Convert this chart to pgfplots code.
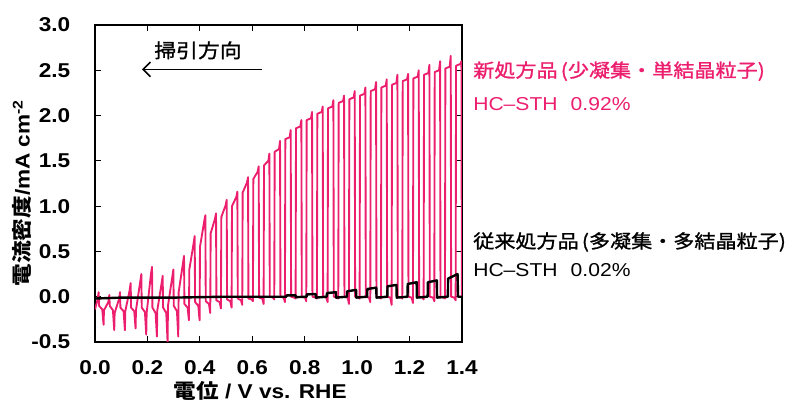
\documentclass[border=0pt]{standalone}
\usepackage{fontspec}
\setmainfont{Liberation Sans}[FakeStretch=1.13]
\newfontfamily\jp{Noto Sans CJK JP}[FakeStretch=1.13]
\newfontfamily\jpm{Noto Sans CJK JP}[FakeStretch=1.13, FakeBold=1.2]
\usepackage{pgfplots}
\pgfplotsset{compat=1.18}
\usetikzlibrary{arrows.meta}
\definecolor{chopink}{RGB}{236,30,110}

% chopped-light LSV, new photocatalyst (pink)
\pgfplotstableread{
x y
0.0000 -0.14
0.0100 -0.03
0.0140 0.05
0.0155 -0.10
0.0277 -0.14
0.0327 -0.31
0.0342 -0.15
0.0507 -0.06
0.0547 0.02
0.0562 -0.10
0.0684 -0.15
0.0734 -0.37
0.0749 -0.18
0.0914 -0.03
0.0954 0.05
0.0969 -0.12
0.1091 -0.16
0.1141 -0.37
0.1156 -0.16
0.1321 0.07
0.1361 0.15
0.1376 -0.12
0.1498 -0.16
0.1548 -0.35
0.1563 -0.15
0.1728 0.17
0.1768 0.25
0.1783 -0.12
0.1905 -0.17
0.1955 -0.42
0.1970 -0.18
0.2135 0.25
0.2175 0.33
0.2190 -0.12
0.2312 -0.18
0.2362 -0.44
0.2377 -0.15
0.2542 0.15
0.2582 0.23
0.2597 -0.12
0.2719 -0.18
0.2769 -0.50
0.2784 -0.10
0.2949 0.22
0.2989 0.30
0.3004 -0.10
0.3126 -0.16
0.3176 -0.44
0.3191 0.05
0.3356 0.37
0.3396 0.45
0.3411 -0.08
0.3533 -0.12
0.3583 -0.26
0.3598 0.30
0.3763 0.59
0.3803 0.67
0.3818 -0.06
0.3940 -0.10
0.3990 -0.26
0.4005 0.55
0.4170 0.84
0.4210 0.90
0.4225 -0.05
0.4347 -0.08
0.4397 -0.18
0.4412 0.70
0.4577 0.86
0.4617 0.92
0.4632 -0.04
0.4754 -0.06
0.4804 -0.13
0.4819 0.88
0.4984 1.01
0.5024 1.07
0.5039 -0.03
0.5161 -0.05
0.5211 -0.12
0.5226 1.00
0.5391 1.10
0.5431 1.16
0.5446 -0.02
0.5568 -0.04
0.5618 -0.09
0.5633 1.15
0.5798 1.26
0.5838 1.32
0.5853 -0.02
0.5975 -0.03
0.6025 -0.05
0.6040 1.30
0.6205 1.38
0.6245 1.44
0.6260 -0.01
0.6382 -0.02
0.6432 -0.08
0.6447 1.45
0.6612 1.50
0.6652 1.58
0.6667 0.00
0.6789 -0.01
0.6839 -0.03
0.6854 1.60
0.7019 1.63
0.7059 1.72
0.7074 0.00
0.7196 -0.01
0.7246 -0.06
0.7261 1.74
0.7426 1.76
0.7466 1.84
0.7481 0.00
0.7603 -0.01
0.7653 -0.02
0.7668 1.86
0.7833 1.88
0.7873 1.95
0.7888 0.00
0.8010 -0.01
0.8060 -0.05
0.8075 1.95
0.8240 1.97
0.8280 2.04
0.8295 0.00
0.8417 -0.01
0.8467 -0.02
0.8482 2.02
0.8647 2.04
0.8687 2.10
0.8702 0.00
0.8824 -0.01
0.8874 -0.06
0.8889 2.08
0.9054 2.10
0.9094 2.17
0.9109 0.00
0.9231 -0.01
0.9281 -0.02
0.9296 2.14
0.9461 2.16
0.9501 2.22
0.9516 0.00
0.9638 -0.01
0.9688 -0.08
0.9703 2.18
0.9868 2.20
0.9908 2.27
0.9923 0.00
1.0045 -0.01
1.0095 -0.02
1.0110 2.22
1.0275 2.24
1.0315 2.31
1.0330 0.00
1.0452 -0.01
1.0502 -0.06
1.0517 2.27
1.0682 2.29
1.0722 2.37
1.0737 0.00
1.0859 -0.01
1.0909 -0.02
1.0924 2.31
1.1089 2.33
1.1129 2.40
1.1144 0.00
1.1266 -0.01
1.1316 -0.09
1.1331 2.34
1.1496 2.36
1.1536 2.45
1.1551 0.00
1.1673 -0.01
1.1723 -0.02
1.1738 2.38
1.1903 2.40
1.1943 2.46
1.1958 0.00
1.2080 -0.01
1.2130 -0.07
1.2145 2.41
1.2310 2.43
1.2350 2.50
1.2365 0.00
1.2487 -0.01
1.2537 -0.03
1.2552 2.45
1.2717 2.47
1.2757 2.56
1.2772 0.00
1.2894 -0.01
1.2944 -0.05
1.2959 2.48
1.3124 2.50
1.3164 2.60
1.3179 0.00
1.3301 -0.01
1.3351 -0.02
1.3366 2.52
1.3531 2.54
1.3571 2.66
1.3586 0.00
1.3708 -0.01
1.3758 -0.04
1.3773 2.55
1.3940 2.57
1.3978 2.60
1.3995 0.00
}\newdata

% conventional photocatalyst (black)
\pgfplotstableread{
x y
0.000 -0.02
0.100 -0.01
0.300 -0.01
0.500 0.00
0.730 0.00
0.731 0.015
0.765 0.015
0.766 -0.005
0.807 0.00
0.808 0.025
0.842 0.03
0.843 -0.01
0.884 0.00
0.885 0.04
0.919 0.05
0.920 -0.01
0.961 0.00
0.962 0.06
0.996 0.075
0.997 -0.01
1.038 0.00
1.039 0.085
1.073 0.10
1.074 -0.01
1.115 0.00
1.116 0.115
1.150 0.13
1.151 -0.01
1.192 0.00
1.193 0.14
1.227 0.16
1.228 -0.01
1.269 0.00
1.270 0.16
1.304 0.18
1.305 -0.01
1.346 0.00
1.347 0.20
1.383 0.25
1.385 0.00
1.400 0.00
}\olddata

\begin{document}
\begin{tikzpicture}
\begin{axis}[
  scale only axis,
  width=275.25pt, height=237.75pt,
  xmin=0, xmax=1.4, ymin=-0.5, ymax=3.0,
  xtick={0,0.2,0.4,0.6,0.8,1.0,1.2,1.4},
  ytick={-0.5,0,0.5,1.0,1.5,2.0,2.5,3.0},
  tick align=inside,
  major tick length=4.5pt,
  every tick/.style={black, line width=0.9pt},
  axis line style={line width=1.1pt},
  /pgf/number format/.cd, fixed, fixed zerofill, precision=1, assume math mode=true,
  /pgfplots/.cd,
  ticklabel style={font=\bfseries\fontsize{15}{15}\selectfont},
  xticklabel style={yshift=-10.5pt},
  yticklabel style={xshift=-15pt},
  xlabel={{\jp\bfseries 電位} / V vs. RHE},
  ylabel={{\jp\bfseries 電流密度}/mA cm\textsuperscript{-2}},
  every axis x label/.style={at={(axis description cs:0.45,-0.155)}, anchor=center,
    font=\bfseries\fontsize{15}{15}\selectfont},
  every axis y label/.style={at={(axis description cs:-0.199,0.47)}, rotate=90, anchor=center,
    font=\bfseries\fontsize{15}{15}\selectfont},
  clip mode=individual,
]
\addplot[chopink, line width=1.4pt, line join=round] table {\newdata};
\addplot[black, line width=1.8pt, line join=round] table {\olddata};

\draw[line width=1.3pt, {Straight Barb[length=5.5pt,width=11pt]}-] (axis cs:0.179,2.51) -- (axis cs:0.637,2.51);
\node[font=\jpm\fontsize{14.5}{14.5}\selectfont] at (axis cs:0.393,2.72) {掃引方向};

\node[anchor=west, inner sep=0, text=chopink, font=\jpm\fontsize{14}{14}\selectfont] at (axis cs:1.442,2.49) {新処方品\,(少凝集・単結晶粒子)};
\node[anchor=west, inner sep=0, text=chopink, font=\fontsize{14}{14}\selectfont] at (axis cs:1.442,2.127) {HC–STH\hspace{0.7em}0.92\%};
\node[anchor=west, inner sep=0, font=\jpm\fontsize{14}{14}\selectfont] at (axis cs:1.442,0.604) {従来処方品\,(多凝集・多結晶粒子)};
\node[anchor=west, inner sep=0, font=\fontsize{14}{14}\selectfont] at (axis cs:1.442,0.295) {HC–STH\hspace{0.7em}0.02\%};

\coordinate (bbA) at (axis cs:-0.3624,3.276);
\coordinate (bbB) at (axis cs:2.6665,-1.251);
\end{axis}
\pgfresetboundingbox
\path[use as bounding box] (bbA) rectangle (bbB);
\end{tikzpicture}
\end{document}
